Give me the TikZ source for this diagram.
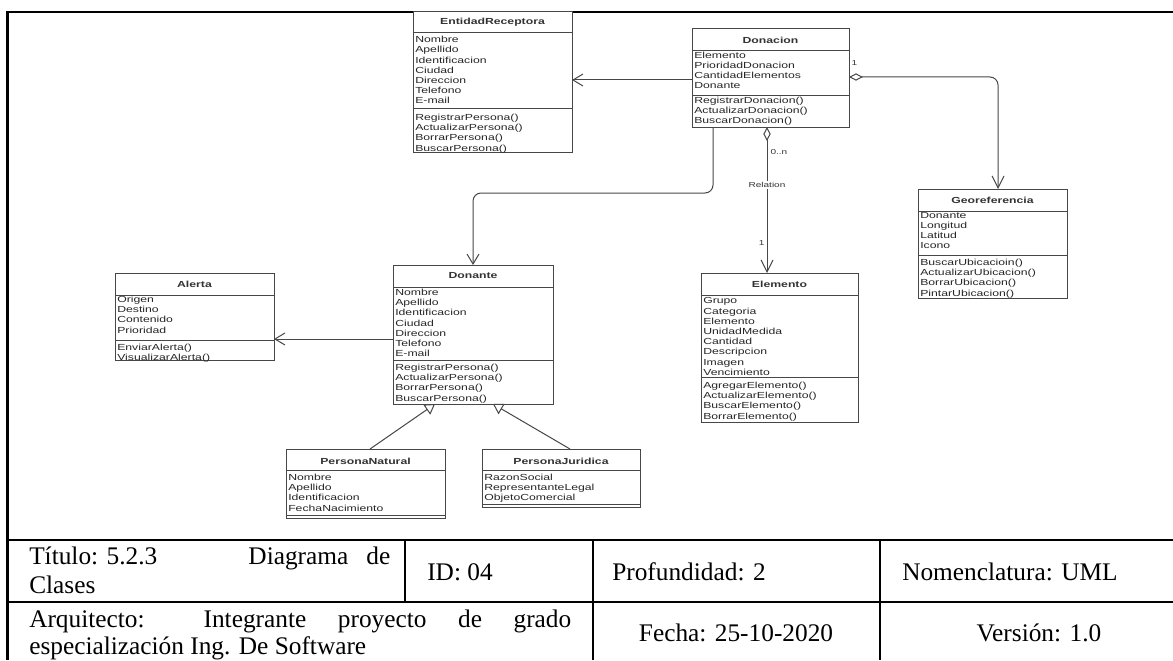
\documentclass[tikz,border=0pt]{standalone}
\usepackage{fontspec}
\setmainfont{Liberation Serif}
\newfontfamily\umlfont[FakeStretch=1.39]{Liberation Sans}
\usetikzlibrary{arrows.meta,calc}
\newcommand{\umlbodyfont}{\umlfont\fontsize{6.6}{7.65}\selectfont\setlength{\lineskiplimit}{-10pt}\relax}
\tikzset{
  cls/.style={draw=black!72, line width=0.75pt, fill=white, anchor=north west, inner sep=0pt, outer sep=0pt},
  csep/.style={draw=black!72, line width=0.75pt},
  ctitle/.style={font=\umlfont\bfseries\fontsize{6.6}{7.65}\selectfont, text=black!80, inner sep=0pt},
  cbody/.style={font=\umlbodyfont, text=black!85, align=left, anchor=north west, inner sep=0pt},
  lbl/.style={font=\umlfont\fontsize{5.4}{6}\selectfont, text=black!80, inner sep=1pt},
  conn/.style={draw=black!72, line width=0.75pt},
  nav/.style={conn, -{Straight Barb[length=7.5pt, width=9pt, line width=0.75pt]}},
  agg/.style={conn, rounded corners=6pt, {Diamond[open, length=10.5pt, width=5.5pt, line width=0.75pt]}-{Straight Barb[length=9pt, width=9pt, line width=0.75pt]}},
  gen/.style={conn, -{Triangle[open, length=7.5pt, width=9pt, line width=0.75pt]}},
  ttext/.style={font=\fontsize{19}{20}\selectfont, inner sep=0pt, text=black},
  tline/.style={draw=black, line width=2pt},
  vline/.style={draw=black, line width=1.5pt}
}
\newcommand{\umlbox}[9]{%
  \node[cls, minimum width={0.75pt*(#4-#2)}, minimum height={0.75pt*(#5-#3)}] (#1) at (#2,#3) {};
  \draw[csep] (#2,#6) -- (#4,#6);
  \draw[csep] (#2,#7) -- (#4,#7);
  \node[ctitle] (#1-title) at ({(#2+#4)/2},#8) {#9};
}
\begin{document}
\begin{tikzpicture}[x=0.75pt,y=-0.75pt]
\useasboundingbox (0,0) rectangle (1173,660);
\fill[white] (0,0) rectangle (1173,660);

% frame
\draw[line width=2pt] (7,12) -- (115,12);
\draw[line width=0.8pt] (115,12) -- (1078,12);
\draw[line width=2pt] (1078,12) -- (1173,12);
\draw[line width=1.8pt] (7.5,11.2) -- (7.5,660);

% classes
\umlbox{er}{413}{12}{572}{152}{33}{108}{22.5}{EntidadReceptora}
\node[cbody] (er-a) at (415,36) {Nombre\\Apellido\\Identificacion\\Ciudad\\Direccion\\Telefono\\E-mail};
\node[cbody] (er-m) at (415,113.8) {RegistrarPersona()\\ActualizarPersona()\\BorrarPersona()\\BuscarPersona()};

\umlbox{dn}{692}{29}{849}{127}{51}{95}{40}{Donacion}
\node[cbody] (dn-a) at (694,51.5) {Elemento\\PrioridadDonacion\\CantidadElementos\\Donante};
\node[cbody] (dn-m) at (694,96.8) {RegistrarDonacion()\\ActualizarDonacion()\\BuscarDonacion()};

\umlbox{geo}{918}{189}{1067}{298}{211}{255}{200}{Georeferencia}
\node[cbody] (geo-a) at (920,211.8) {Donante\\Longitud\\Latitud\\Icono};
\node[cbody] (geo-m) at (920,258.8) {BuscarUbicacioin()\\ActualizarUbicacion()\\BorrarUbicacion()\\PintarUbicacion()};

\umlbox{al}{115}{273}{274}{360}{295}{340}{284}{Alerta}
\node[cbody] (al-a) at (117,295.8) {Origen\\Destino\\Contenido\\Prioridad};
\node[cbody] (al-m) at (117,343.8) {EnviarAlerta()\\VisualizarAlerta()};

\umlbox{dt}{393}{265}{553}{404}{287}{360}{276}{Donante}
\node[cbody] (dt-a) at (395,288.8) {Nombre\\Apellido\\Identificacion\\Ciudad\\Direccion\\Telefono\\E-mail};
\node[cbody] (dt-m) at (395,363.8) {RegistrarPersona()\\ActualizarPersona()\\BorrarPersona()\\BuscarPersona()};

\umlbox{el}{701}{273}{858}{422}{295}{377}{284}{Elemento}
\node[cbody] (el-a) at (703,297.5) {Grupo\\Categoria\\Elemento\\UnidadMedida\\Cantidad\\Descripcion\\Imagen\\Vencimiento};
\node[cbody] (el-m) at (703,381.8) {AgregarElemento()\\ActualizarElemento()\\BuscarElemento()\\BorrarElemento()};

\umlbox{pn}{286}{449}{445}{518}{470}{515}{461}{PersonaNatural}
\node[cbody] (pn-a) at (288,473.8) {Nombre\\Apellido\\Identificacion\\FechaNacimiento};

\umlbox{pj}{482}{449}{640}{507}{470}{504}{461}{PersonaJuridica}
\node[cbody] (pj-a) at (484,473.8) {RazonSocial\\RepresentanteLegal\\ObjetoComercial};

% connectors
\draw[nav] ($(dn.north west)+(0,51)$) -- ($(er.north east)+(0,68)$);
\draw[agg] ($(dn.north east)+(0,48)$) -| ($(geo.north west)+(80,0)$);
\node[lbl, anchor=south west] (m-geo) at (850,67) {1};
\draw[agg, rounded corners=0pt] ($(dn.south west)+(75,0)$) -- ($(el.north west)+(66,0)$);
\node[lbl, anchor=west] (m-0n) at (769,152) {0..n};
\node[lbl, fill=white] (rel) at (767,185) {Relation};
\node[lbl, anchor=east] (m-el) at (766,243) {1};
\draw[nav, rounded corners=6pt] ($(dn.south west)+(21,0)$) |- ($(dt.north)+(0,-72)$) -- (dt.north);
\draw[nav] ($(dt.north west)+(0,74)$) -- ($(al.north east)+(0,66)$);
\draw[gen] ($(pn.north west)+(84,0)$) -- ($(dt.south west)+(42,0)$);
\draw[gen] ($(pj.north west)+(88,0)$) -- ($(dt.south west)+(100,0)$);

% table
\draw[tline] (6.6,540) -- (1173,540);
\draw[tline] (6.6,602) -- (1173,602);
\draw[vline] (405,540) -- (405,602);
\draw[vline] (593,540) -- (593,660);
\draw[vline] (880,540) -- (880,660);

\node[ttext, anchor=base west] (tit1) at (29,564) {\makebox[270.75pt][l]{Título: 5.2.3\hfill Diagrama\hspace{13.5pt}de}};
\node[ttext, anchor=base west] (tit2) at (29,593) {Clases};
\node[ttext, anchor=base west] (tid) at (427,580) {ID: 04};
\node[ttext, anchor=base west] (tprof) at (612,580) {Profundidad: 2};
\node[ttext, anchor=base west] (tnom) at (902,580) {Nomenclatura: UML};
\node[ttext, anchor=base west] (arq1) at (29,627) {\makebox[406.5pt][s]{Arquitecto: Integrante proyecto de grado}};
\node[ttext, anchor=base west] (arq2) at (29,654) {especialización Ing. De Software};
\node[ttext, anchor=base] (tfecha) at (736,641) {Fecha: 25-10-2020};
\node[ttext, anchor=base] (tver) at (1039,641) {Versión: 1.0};
\end{tikzpicture}
\end{document}
